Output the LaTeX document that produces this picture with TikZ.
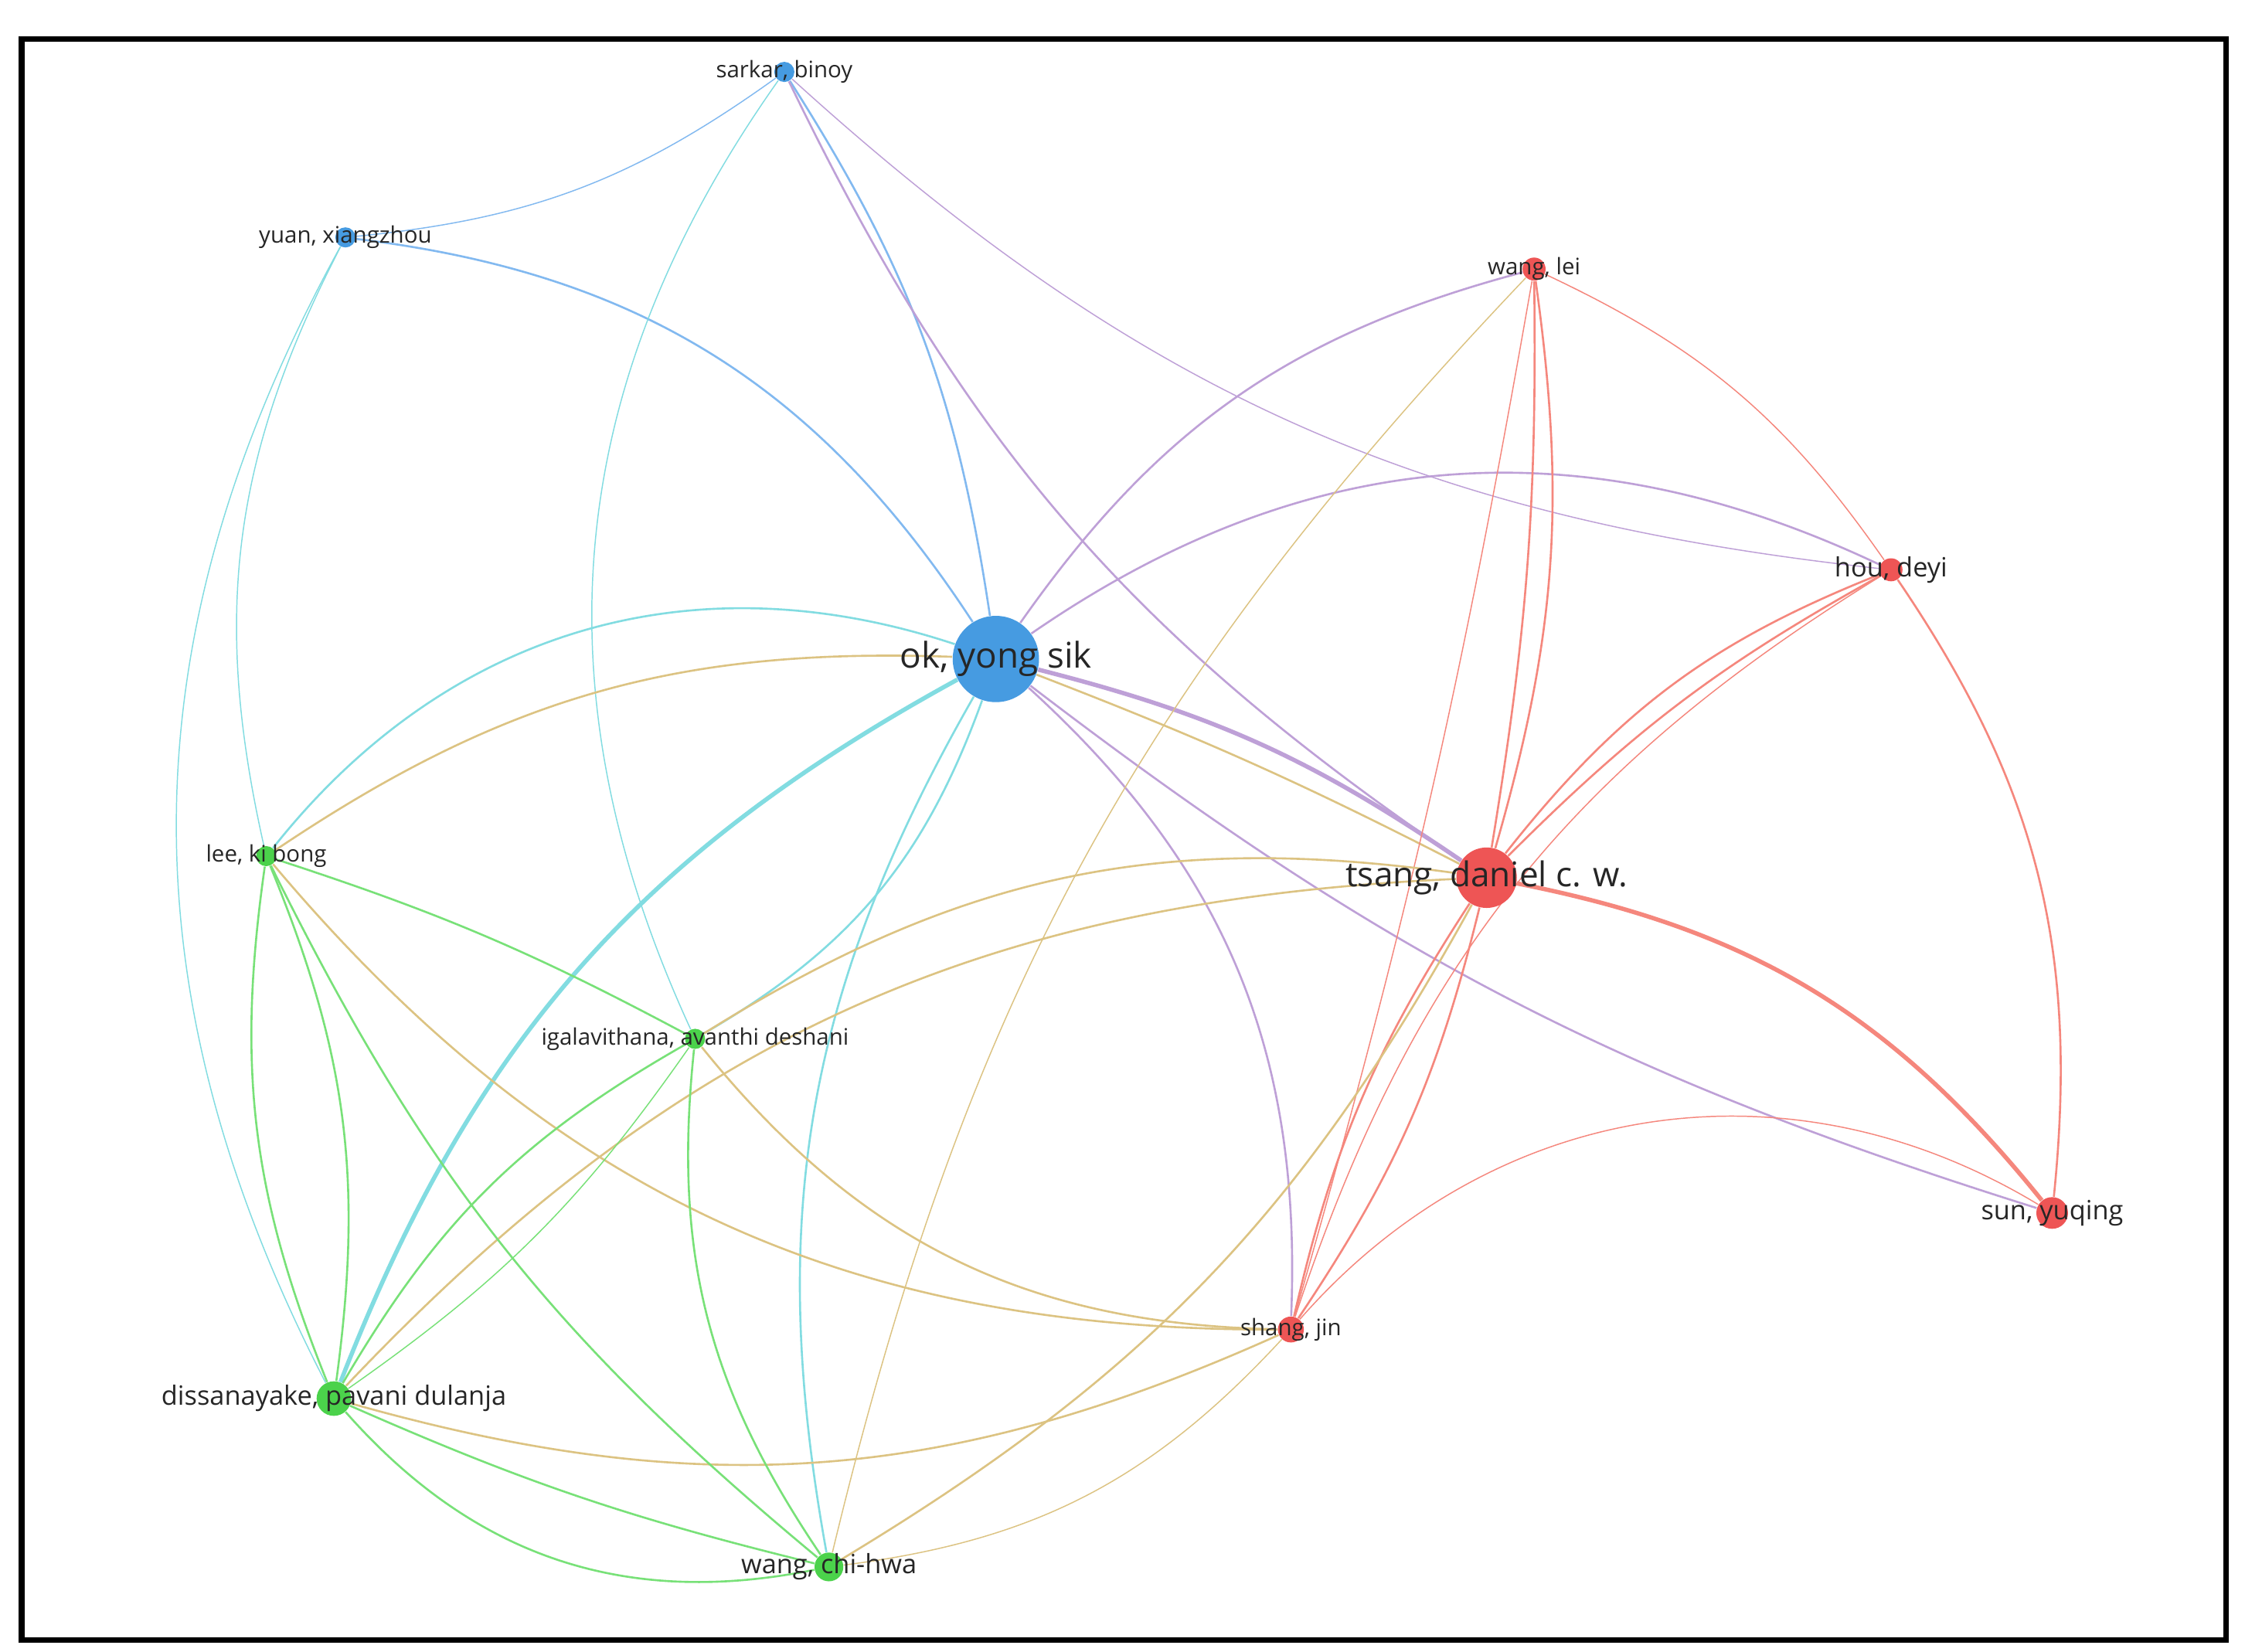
\documentclass[tikz,border=0pt]{standalone}
\usepackage{fontspec}
\setmainfont{Open Sans}
\definecolor{cB}{RGB}{130,185,240}
\definecolor{cR}{RGB}{245,135,125}
\definecolor{cG}{RGB}{120,225,120}
\definecolor{cBR}{RGB}{190,160,215}
\definecolor{cBG}{RGB}{130,220,225}
\definecolor{cRG}{RGB}{220,195,130}
\definecolor{nB}{RGB}{70,155,225}
\definecolor{nR}{RGB}{238,85,85}
\definecolor{nG}{RGB}{75,210,75}
\begin{document}
\begin{tikzpicture}[x=0.02cm,y=-0.02cm,
 nd/.style={circle,inner sep=0pt,minimum size=#1*0.04cm},
 lb/.style={font=\fontsize{#1}{#1}\selectfont,text=black!85},
 B/.style={draw=cB,line width=0.8pt},
 R/.style={draw=cR,line width=0.8pt},
 G/.style={draw=cG,line width=0.8pt},
 BR/.style={draw=cBR,line width=0.8pt},
 BG/.style={draw=cBG,line width=0.8pt},
 RG/.style={draw=cRG,line width=0.8pt},
 thin/.style={line width=0.45pt},
 thick/.style={line width=1.7pt}]
\useasboundingbox (0,0) rectangle (1560,1148);
\fill[white] (0,0) rectangle (1560,1148);
\draw[line width=2.2pt] (15,27) rectangle (1547,1140);
% nodes (circles)
\node[nd=7] (sar) at (545,50) {};
\node[nd=7] (yuan) at (240,165) {};
\node[nd=8] (wl) at (1066,187) {};
\node[nd=8] (hou) at (1314,396) {};
\node[nd=30] (ok) at (692,458) {};
\node[nd=21] (ts) at (1033,610) {};
\node[nd=7] (lee) at (185,595) {};
\node[nd=7] (ig) at (483,722) {};
\node[nd=11] (sun) at (1426,843) {};
\node[nd=9] (sh) at (897,924) {};
\node[nd=12] (dis) at (232,972) {};
\node[nd=10] (wc) at (576,1089) {};
% edges
\draw[B] (ok) to[bend right=12] (sar);
\draw[B] (ok) to[bend right=25] (yuan);
\draw[B,thin] (sar) to[bend left=15] (yuan);
\draw[BR,thin] (sar) to[bend right=18] (hou);
\draw[BR] (sar) to[bend right=15] (ts);
\draw[BG,thin] (sar) to[bend right=30] (ig);
\draw[BG,thin] (yuan) to[bend right=20] (lee);
\draw[BG,thin] (yuan) to[bend right=28] (dis);
\draw[BR] (ok) to[bend left=20] (wl);
\draw[BR] (ok) to[bend left=30] (hou);
\draw[BR,thick] (ok) to[bend left=10] (ts);
\draw[RG] (ok) to[bend left=3] (ts);
\draw[BR] (ok) to[bend left=25] (sh);
\draw[BR] (ok) to[bend right=10] (sun);
\draw[BG] (ok) to[bend right=35] (lee);
\draw[RG] (ok) to[bend right=18] (lee);
\draw[BG] (ok) to[bend left=20] (ig);
\draw[BG,thick] (ok) to[bend right=20] (dis);
\draw[BG] (ok) to[bend right=20] (wc);
\draw[R] (wl) to[bend left=5] (ts);
\draw[R] (wl) to[bend left=12] (ts);
\draw[R,thin] (wl) to[bend left=15] (hou);
\draw[R,thin] (wl) to[bend left=3] (sh);
\draw[RG,thin] (wl) to[bend right=15] (wc);
\draw[R] (hou) to[bend right=15] (ts);
\draw[R] (hou) to[bend right=8] (ts);
\draw[R,thin] (hou) to[bend right=20] (sh);
\draw[R] (hou) to[bend left=20] (sun);
\draw[R,thick] (ts) to[bend left=20] (sun);
\draw[R] (ts) to[bend right=10] (sh);
\draw[R] (ts) to[bend left=10] (sh);
\draw[RG] (ts) to[bend right=20] (ig);
\draw[RG] (ts) to[bend right=22] (dis);
\draw[RG] (ts) to[bend left=15] (wc);
\draw[R,thin] (sh) to[bend left=40] (sun);
\draw[RG] (sh) to[bend left=25] (lee);
\draw[RG] (sh) to[bend left=25] (ig);
\draw[RG] (sh) to[bend left=20] (dis);
\draw[RG,thin] (sh) to[bend left=20] (wc);
\draw[G] (lee) to[bend left=5] (ig);
\draw[G] (lee) to[bend left=15] (dis);
\draw[G] (lee) to[bend right=15] (dis);
\draw[G] (lee) to[bend right=12] (wc);
\draw[G] (ig) to[bend right=15] (dis);
\draw[G] (ig) to[bend right=20] (wc);
\draw[G] (dis) to[bend right=30] (wc);
\draw[G] (dis) to[bend right=5] (wc);
\draw[G,thin] (ig) to[bend left=10] (dis);
% node discs
\fill[nB] (sar) circle (7);
\fill[nB] (yuan) circle (7);
\fill[nB] (ok) circle (30);
\fill[nR] (wl) circle (8);
\fill[nR] (hou) circle (8);
\fill[nR] (ts) circle (21);
\fill[nR] (sun) circle (11);
\fill[nR] (sh) circle (9);
\fill[nG] (lee) circle (7);
\fill[nG] (ig) circle (7);
\fill[nG] (dis) circle (12);
\fill[nG] (wc) circle (10);
% labels
\node[lb=9] (lsar) at (sar) {sarkar, binoy};
\node[lb=9] (lyuan) at (yuan) {yuan, xiangzhou};
\node[lb=9] (lwl) at (wl) {wang, lei};
\node[lb=10.5] (lhou) at (hou) {hou, deyi};
\node[lb=14] (lok) at (ok) {ok, yong sik};
\node[lb=13.5] (lts) at (ts) {tsang, daniel c. w.};
\node[lb=9] (llee) at (lee) {lee, ki bong};
\node[lb=9] (lig) at (ig) {igalavithana, avanthi deshani};
\node[lb=10.5] (lsun) at (sun) {sun, yuqing};
\node[lb=9] (lsh) at (sh) {shang, jin};
\node[lb=10.5] (ldis) at (dis) {dissanayake, pavani dulanja};
\node[lb=10.5] (lwc) at (wc) {wang, chi-hwa};
\end{tikzpicture}
\end{document}
